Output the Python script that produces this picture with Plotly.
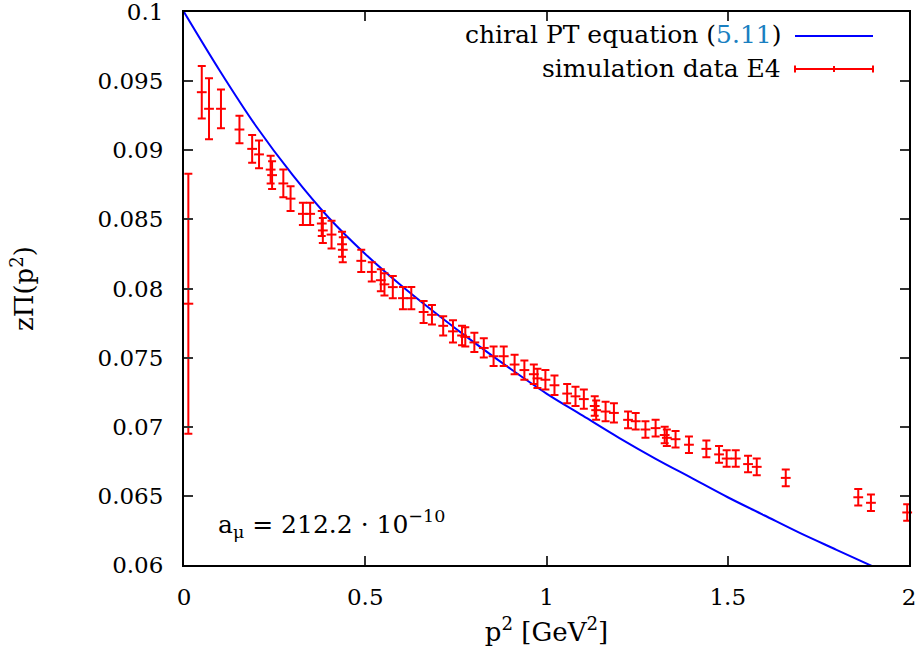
import plotly.graph_objects as go

# ---- data ----
p2_data = [0.012, 0.049, 0.069, 0.102, 0.153, 0.188, 0.207, 0.239, 0.243, 0.274,
           0.294, 0.328, 0.348, 0.380, 0.383, 0.407, 0.436, 0.438, 0.489, 0.518,
           0.543, 0.553, 0.576, 0.604, 0.627, 0.661, 0.684, 0.715, 0.742, 0.767,
           0.776, 0.801, 0.827, 0.854, 0.882, 0.912, 0.939, 0.965, 0.975, 0.997,
           1.022, 1.057, 1.080, 1.103, 1.133, 1.137, 1.163, 1.186, 1.225, 1.246,
           1.273, 1.301, 1.326, 1.332, 1.356, 1.393, 1.441, 1.476, 1.497, 1.522,
           1.556, 1.580, 1.660, 1.860, 1.895, 1.995]
zpi_data = [0.0789, 0.0942, 0.0930, 0.0930, 0.0915, 0.0901, 0.0897, 0.0886, 0.0882, 0.0876,
            0.0865, 0.0854, 0.0854, 0.0847, 0.0842, 0.0839, 0.0832, 0.0828, 0.0820, 0.0812,
            0.0806, 0.0803, 0.0801, 0.0793, 0.0793, 0.0783, 0.0781, 0.0773, 0.0769, 0.0766,
            0.0765, 0.0761, 0.0757, 0.0751, 0.0751, 0.0745, 0.0741, 0.0738, 0.0735, 0.0734,
            0.0730, 0.0724, 0.0722, 0.0720, 0.0715, 0.0712, 0.0711, 0.0710, 0.0705, 0.0704,
            0.0698, 0.0699, 0.0694, 0.0692, 0.0691, 0.0687, 0.0684, 0.0680, 0.0677, 0.0677,
            0.0673, 0.0671, 0.0663, 0.0649, 0.0645, 0.0638]
zpi_err = [0.0094, 0.0019, 0.0022, 0.0014, 0.0010, 0.0010, 0.0010, 0.0010, 0.0010, 0.0010,
           0.0009, 0.0008, 0.0008, 0.0009, 0.0009, 0.0010, 0.0009, 0.0009, 0.0008, 0.0007,
           0.0008, 0.0008, 0.0008, 0.0008, 0.0008, 0.0008, 0.0007, 0.0007, 0.0008, 0.0007,
           0.0007, 0.0007, 0.0007, 0.0007, 0.0007, 0.0007, 0.0007, 0.0007, 0.0007, 0.0007,
           0.0007, 0.0007, 0.0007, 0.0007, 0.0007, 0.0007, 0.0007, 0.0007, 0.0006, 0.0006,
           0.0006, 0.0006, 0.0006, 0.0006, 0.0006, 0.0006, 0.0006, 0.0006, 0.0006, 0.0006,
           0.0006, 0.0006, 0.0006, 0.0006, 0.0006, 0.0006]

p2_curve = [0.0, 0.1, 0.2, 0.3, 0.4, 0.5, 0.6, 0.7, 0.8, 0.9, 1.0, 1.1, 1.2, 1.3,
            1.4, 1.5, 1.6, 1.7, 1.8, 1.9, 2.0]
zpi_curve = [0.1000, 0.0957, 0.0917, 0.0882, 0.0851, 0.0825, 0.0802, 0.0781, 0.0761,
             0.0742, 0.0724, 0.0708, 0.0692, 0.0677, 0.0663, 0.0649, 0.0636, 0.0623,
             0.0611, 0.0599, 0.0587]

x_ticks = [0, 0.5, 1, 1.5, 2]
x_ticklabels = ["0", "0.5", "1", "1.5", "2"]
y_ticks = [0.06, 0.065, 0.07, 0.075, 0.08, 0.085, 0.09, 0.095, 0.1]
y_ticklabels = ["0.06", "0.065", "0.07", "0.075", "0.08", "0.085", "0.09", "0.095", "0.1"]

FONT = "DejaVu Serif"
RED = "#ff0000"
BLUE = "#0000ff"
FS = 23
FS_TEXT = 25

fig = go.Figure()
fig.add_trace(go.Scatter(
    x=p2_curve, y=zpi_curve, mode="lines", line=dict(color=BLUE, width=2, shape="spline"),
    showlegend=False, hoverinfo="skip"))
fig.add_trace(go.Scatter(
    x=p2_data, y=zpi_data, mode="markers",
    marker=dict(symbol="line-ew", size=7, color=RED, line=dict(color=RED, width=2)),
    error_y=dict(type="data", array=zpi_err, visible=True, color=RED, thickness=2, width=4),
    cliponaxis=False, showlegend=False))

axis_common = dict(showline=True, linecolor="black", linewidth=2, mirror="ticks",
                   ticks="inside", ticklen=9, tickwidth=1.5, tickcolor="#333",
                   showgrid=False, zeroline=False, ticklabeloverflow="allow",
                   automargin=False,
                   tickfont=dict(family=FONT, size=FS, color="black"))

fig.update_xaxes(range=[0, 2], tickvals=x_ticks, ticktext=x_ticklabels,
                 ticklabelstandoff=10,
                 title=dict(text="p<sup>2</sup> [GeV<sup>2</sup>]",
                            font=dict(family=FONT, size=26, color="black"), standoff=14),
                 **axis_common)
fig.update_yaxes(range=[0.0599999, 0.1000001], tickvals=y_ticks, ticktext=y_ticklabels,
                 ticklabelstandoff=14,
                 title=dict(text="zΠ(p<sup>2</sup>)",
                            font=dict(family=FONT, size=26, color="black"), standoff=56),
                 **axis_common)

# legend drawn manually (gnuplot style)
W = 725.0
H = 553.0
def px(x):
    return (x - 184) / W
def py(y):
    return 1 - (y - 12) / H

shapes = [
    dict(type="line", xref="paper", yref="paper", x0=px(795), x1=px(873), y0=py(36), y1=py(36),
         line=dict(color=BLUE, width=2)),
    dict(type="line", xref="paper", yref="paper", x0=px(795), x1=px(873), y0=py(69), y1=py(69),
         line=dict(color=RED, width=2)),
    dict(type="line", xref="paper", yref="paper", x0=px(795), x1=px(795), y0=py(65.5), y1=py(72.5),
         line=dict(color=RED, width=2)),
    dict(type="line", xref="paper", yref="paper", x0=px(873), x1=px(873), y0=py(65.5), y1=py(72.5),
         line=dict(color=RED, width=2)),
    dict(type="line", xref="paper", yref="paper", x0=px(834), x1=px(834), y0=py(66), y1=py(72),
         line=dict(color=RED, width=2)),
]
annotations = [
    dict(xref="paper", yref="paper", x=px(783), y=py(35), xanchor="right", yanchor="middle",
         text='chiral PT equation (<span style="color:#1a7fc1">5.11</span>)', showarrow=False,
         font=dict(family=FONT, size=FS_TEXT, color="black")),
    dict(xref="paper", yref="paper", x=px(783), y=py(68), xanchor="right", yanchor="middle",
         text="simulation data E4", showarrow=False,
         font=dict(family=FONT, size=FS_TEXT, color="black")),
    dict(xref="paper", yref="paper", x=px(216), y=py(524), xanchor="left", yanchor="middle",
         text="a<sub>μ</sub> = 212.2 · 10<sup>−10</sup>", showarrow=False,
         font=dict(family=FONT, size=FS_TEXT, color="black")),
]

fig.update_layout(width=919, height=653, margin=dict(l=184, r=10, t=12, b=88),
                  paper_bgcolor="white", plot_bgcolor="white",
                  font=dict(family=FONT, size=FS, color="black"),
                  shapes=shapes, annotations=annotations, showlegend=False)

fig.write_html("out.html")
